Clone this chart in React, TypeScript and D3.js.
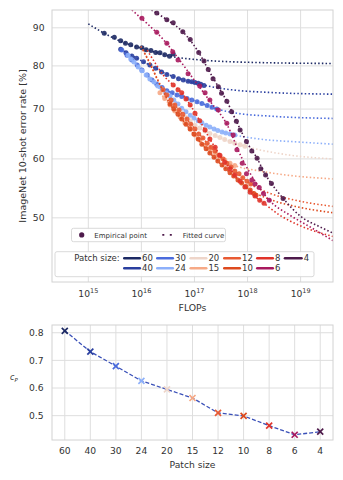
import React from 'react';
import * as d3 from 'd3';

// ---------- data ----------
const patchSizes = ['60', '40', '30', '24', '20', '15', '12', '10', '8', '6', '4'];
const patchColors = ['#1d2a64', '#2a3f9f', '#4a6bdc', '#8db0fa', '#eed5c9', '#f6a986', '#e85a33', '#dd4a1e', '#e0332a', '#a8195e', '#4e1a4b'];
const cP = [0.807, 0.732, 0.679, 0.626, 0.595, 0.564, 0.51, 0.499, 0.464, 0.431, 0.442];

const flopTicks = [15, 16, 17, 18, 19];
const errTicks = [50, 60, 70, 80, 90];
const cpTicks = [0.5, 0.6, 0.7, 0.8];

// empirical points: [log10 FLOPs, error %]
const pts60 = [[15.30, 88.5], [15.49, 87.4], [15.61, 86.5], [15.70, 85.8], [15.80, 85.4], [15.91, 84.8], [16.01, 84.6], [16.09, 84.1], [16.18, 83.9], [16.27, 83.4], [16.35, 83.3], [16.44, 82.8], [16.53, 82.4], [16.60, 83.0]];
const pts40 = [[15.61, 84.2], [15.71, 83.3], [15.82, 82.5], [15.91, 81.9], [16.04, 81.05], [16.16, 80.2], [16.27, 79.4], [16.38, 78.5], [16.48, 77.9], [16.60, 77.4], [16.70, 76.9], [16.79, 76.6], [16.88, 76.3], [16.95, 76.2], [17.01, 76.0], [17.07, 75.8], [17.12, 75.6], [17.18, 75.3]];
const pts30 = [[15.63, 84.0], [15.73, 82.7], [15.82, 81.5], [15.92, 80.2], [16.01, 79.0], [16.11, 77.8], [16.20, 76.6], [16.29, 75.6], [16.39, 74.8], [16.48, 74.1], [16.58, 73.6], [16.67, 73.1], [16.76, 72.8], [16.86, 72.3], [16.95, 72.0], [17.05, 71.6], [17.14, 71.2], [17.24, 70.8], [17.33, 70.4], [17.42, 70.0]];
const pts24 = [[15.75, 82.7], [15.80, 81.7], [15.86, 81.0], [15.94, 79.7], [16.01, 78.8], [16.09, 77.8], [16.16, 76.8], [16.24, 76.1], [16.31, 75.2], [16.39, 74.5], [16.46, 73.6], [16.54, 72.9], [16.61, 72.0], [16.69, 71.1], [16.76, 70.2], [16.84, 69.4], [16.92, 68.7], [16.99, 68.1], [17.07, 67.5], [17.14, 67.1], [17.22, 66.6], [17.29, 66.2], [17.37, 65.8], [17.44, 65.5], [17.52, 65.2], [17.59, 65.0], [17.67, 64.8], [17.76, 64.6]];
const pts20 = [[16.44, 72.7], [16.54, 71.6], [16.63, 70.6], [16.73, 69.4], [16.82, 68.3], [16.92, 67.5], [17.01, 66.6], [17.10, 66.0], [17.20, 65.4], [17.29, 64.9], [17.39, 64.5], [17.48, 64.1], [17.57, 63.7], [17.67, 63.3], [17.76, 63.0], [17.86, 62.7], [17.95, 62.4]];
const pts15 = [[16.35, 73.6], [16.44, 72.3], [16.54, 70.9], [16.63, 69.6], [16.73, 68.3], [16.82, 67.1], [16.92, 65.8], [17.01, 64.6], [17.10, 63.6], [17.20, 62.6], [17.29, 61.9], [17.39, 61.1], [17.48, 60.3], [17.57, 59.8], [17.67, 59.2], [17.76, 58.8]];
const pts12 = [[16.41, 74.3], [16.48, 73.1], [16.56, 72.0], [16.63, 70.9], [16.71, 69.8], [16.78, 68.9], [16.86, 67.9], [16.93, 66.8], [17.01, 65.8], [17.08, 64.8], [17.16, 64.0], [17.24, 63.0], [17.31, 62.2], [17.39, 61.5], [17.46, 60.7], [17.54, 60.0], [17.61, 59.2], [17.69, 58.5], [17.76, 57.8], [17.84, 57.3], [17.91, 56.6], [17.99, 56.0], [18.06, 55.5]];
const pts10 = [[16.54, 71.1], [16.61, 70.0], [16.69, 68.9], [16.76, 67.9], [16.84, 66.8], [16.92, 65.8], [16.99, 64.8], [17.07, 63.8], [17.14, 62.8], [17.22, 61.9], [17.29, 61.1], [17.37, 60.3], [17.44, 59.6], [17.52, 58.9], [17.59, 58.2], [17.67, 57.5], [17.74, 56.9], [17.82, 56.2], [17.89, 55.7], [17.97, 55.1], [18.05, 54.5], [18.12, 53.9], [18.16, 53.6]];
const pts8 = [[16.60, 75.4], [16.69, 74.3], [16.76, 73.6], [16.84, 72.2], [16.92, 70.9], [17.01, 69.1], [17.10, 67.5], [17.20, 65.6], [17.29, 63.8], [17.39, 62.2], [17.48, 60.7], [17.57, 59.4], [17.67, 58.2], [17.76, 57.1], [17.86, 56.0], [17.95, 55.0], [18.05, 54.1], [18.14, 53.5], [18.23, 52.8], [18.31, 52.3]];
const pts6 = [[16.01, 92.7], [16.29, 88.8], [16.48, 85.8], [16.59, 83.6], [16.69, 81.5], [16.88, 78.1], [17.10, 75.2], [17.20, 73.6], [17.29, 72.0], [17.45, 69.8], [17.61, 67.0], [17.73, 64.6], [17.80, 61.7], [17.90, 59.2], [17.98, 57.3], [18.08, 56.2], [18.14, 55.5], [18.22, 54.9], [18.30, 53.9], [18.41, 52.8]];
const pts4 = [[16.29, 94.2], [16.48, 92.3], [16.60, 91.4], [16.78, 88.9], [16.92, 86.8], [17.08, 83.4], [17.18, 81.2], [17.26, 79.1], [17.35, 76.9], [17.45, 75.0], [17.51, 73.5], [17.61, 71.7], [17.70, 69.4], [17.79, 67.4], [17.86, 65.6], [17.98, 63.3], [18.08, 61.5], [18.18, 60.1], [18.25, 58.2], [18.34, 57.1], [18.45, 55.6], [18.67, 53.1]];

// fitted curves: [log10 FLOPs, error %]
const fit60 = [[15.0, 91.1], [15.3, 88.5], [15.7, 85.8], [16.0, 84.5], [16.3, 83.3], [16.6, 82.3], [17.1, 81.5], [18.0, 80.9], [19.61, 80.6]];
const fit40 = [[15.61, 84.2], [15.9, 82.0], [16.2, 79.9], [16.5, 77.9], [16.8, 76.6], [17.2, 75.3], [17.7, 74.3], [18.4, 73.7], [19.61, 73.3]];
const fit30 = [[15.63, 84.0], [15.9, 80.6], [16.2, 76.6], [16.5, 74.0], [16.8, 72.7], [17.1, 71.4], [17.4, 70.1], [17.8, 69.1], [18.4, 68.5], [19.61, 68.0]];
const fit24 = [[15.75, 82.7], [16.0, 79.0], [16.3, 75.0], [16.6, 72.1], [16.9, 68.9], [17.2, 66.7], [17.5, 65.4], [17.76, 64.6], [18.23, 63.8], [18.99, 63.2], [19.61, 62.8]];
const fit20 = [[16.44, 72.7], [16.7, 69.6], [17.0, 66.7], [17.3, 64.9], [17.6, 63.6], [17.95, 62.4], [18.23, 61.7], [18.8, 60.7], [19.61, 60.0]];
const fit15 = [[16.35, 73.6], [16.63, 69.6], [16.92, 65.8], [17.2, 62.6], [17.48, 60.3], [17.76, 58.8], [18.23, 57.8], [18.8, 57.0], [19.61, 56.4]];
const fit12 = [[15.99, 85.0], [16.16, 80.7], [16.29, 77.1], [16.41, 74.3], [16.71, 69.8], [17.01, 65.8], [17.31, 62.2], [17.61, 59.2], [17.91, 56.6], [18.06, 55.5], [18.4, 54.0], [18.9, 52.8], [19.61, 51.8]];
const fit10 = [[16.03, 84.0], [16.2, 79.5], [16.35, 75.4], [16.54, 71.1], [16.84, 66.8], [17.14, 62.8], [17.44, 59.6], [17.74, 56.9], [18.05, 54.5], [18.4, 53.0], [18.9, 51.8], [19.61, 50.8]];
const fit8 = [[16.11, 84.0], [16.26, 80.7], [16.41, 77.8], [16.6, 75.4], [16.76, 73.6], [16.92, 70.9], [17.1, 67.5], [17.29, 63.8], [17.48, 60.7], [17.67, 58.2], [17.86, 56.0], [18.05, 54.1], [18.31, 52.3], [18.61, 50.4], [18.99, 48.8], [19.61, 47.2]];
const fit6 = [[15.82, 95.1], [16.1, 91.3], [16.4, 87.0], [16.7, 81.8], [17.0, 76.5], [17.3, 71.6], [17.6, 67.0], [17.9, 60.0], [18.2, 55.2], [18.41, 52.8], [18.8, 50.4], [19.18, 48.6], [19.61, 46.6]];
const fit4 = [[16.19, 95.1], [16.48, 92.3], [16.78, 88.9], [17.08, 83.4], [17.26, 79.1], [17.45, 75.0], [17.61, 71.7], [17.79, 67.4], [17.98, 63.3], [18.18, 60.1], [18.34, 57.1], [18.45, 55.6], [18.67, 53.1], [18.99, 50.3], [19.37, 48.6], [19.61, 47.7]];

const empirical = [pts60, pts40, pts30, pts24, pts20, pts15, pts12, pts10, pts8, pts6, pts4];
const fitted = [fit60, fit40, fit30, fit24, fit20, fit15, fit12, fit10, fit8, fit6, fit4];

// legend layout (row-major as in reference)
const legendRow1 = ['60', '30', '20', '12', '8', '4'];
const legendRow2 = ['40', '24', '15', '10', '6'];

// ---------- layout ----------
const FONT = 'DejaVu Sans, sans-serif';
const TXT = '#333333';
const GRID = '#dedede';
const SPINE = '#d2d2d2';

const top = { l: 52, r: 333, t: 10, b: 282 };
const bot = { l: 52, r: 333, t: 325, b: 440 };

const xs = d3.scaleLog().domain([10 ** 14.316, 10 ** 19.61]).range([top.l, top.r]);
const ys = d3.scaleLog().domain([41.0, 95.1]).range([top.b, top.t]);
const xb = d3.scalePoint().domain(patchSizes).range([bot.l, bot.r]).padding(0.5);
const yb = d3.scaleLinear().domain([0.412, 0.828]).range([bot.b, bot.t]);

const colorOf = (p: string) => patchColors[patchSizes.indexOf(p)];

export default function App() {
  const line = d3
    .line<number[]>()
    .x((d) => xs(10 ** d[0]))
    .y((d) => ys(d[1]))
    .curve(d3.curveMonotoneX);
  const cpLine = d3
    .line<number>()
    .x((_, i) => xb(patchSizes[i]) as number)
    .y((d) => yb(d));

  const legendCols = [124.3, 157.3, 190.7, 224.3, 257.3, 285];

  return (
    <svg
      width={343}
      height={480}
      style={{ position: 'absolute', left: 0, top: 0, background: '#fff' }}
      fontFamily={FONT}
    >
      <defs>
        <clipPath id="clipTop">
          <rect x={top.l} y={top.t} width={top.r - top.l} height={top.b - top.t} />
        </clipPath>
      </defs>
      <rect x={0} y={0} width={343} height={480} fill="#fff" />

      {/* ===== top panel ===== */}
      {flopTicks.map((t) => (
        <line key={'gx' + t} x1={xs(10 ** t)} x2={xs(10 ** t)} y1={top.t} y2={top.b} stroke={GRID} strokeWidth={1} />
      ))}
      {errTicks.map((t) => (
        <line key={'gy' + t} x1={top.l} x2={top.r} y1={ys(t)} y2={ys(t)} stroke={GRID} strokeWidth={1} />
      ))}

      <g clipPath="url(#clipTop)">
        {patchSizes.map((p, i) => (
          <g key={'s' + p}>
            <path
              d={line(fitted[i] as number[][]) || ''}
              fill="none"
              stroke={patchColors[i]}
              strokeWidth={1.6}
              strokeDasharray="1.5 2.2"
            />
            {empirical[i].map((d, j) => (
              <circle key={j} cx={xs(10 ** d[0])} cy={ys(d[1])} r={2.5} fill={patchColors[i]} fillOpacity={0.9} />
            ))}
          </g>
        ))}
      </g>

      <rect x={top.l} y={top.t} width={top.r - top.l} height={top.b - top.t} fill="none" stroke={SPINE} strokeWidth={1} />

      {errTicks.map((t) => (
        <text key={'ly' + t} x={44.5} y={ys(t)} dy="0.35em" textAnchor="end" fontSize={9.2} fill={TXT}>
          {t}
        </text>
      ))}
      {flopTicks.map((t) => (
        <text key={'lx' + t} x={xs(10 ** t)} y={296.5} textAnchor="middle" fontSize={9.2} fill={TXT}>
          <tspan>10</tspan>
          <tspan dy={-4} fontSize={6.5}>
            {t}
          </tspan>
        </text>
      ))}
      <text x={(top.l + top.r) / 2} y={310.5} textAnchor="middle" fontSize={9.3} fill={TXT}>
        FLOPs
      </text>
      <text transform={`translate(25.5,${(top.t + top.b) / 2}) rotate(-90)`} textAnchor="middle" fontSize={9.5} fill={TXT}>
        ImageNet 10-shot error rate [%]
      </text>

      {/* legend 1 */}
      <rect x={71.5} y={228.3} width={154} height={13.4} rx={2} fill="#fff" fillOpacity={0.9} stroke="#cfcfcf" strokeWidth={0.8} />
      <circle cx={81.7} cy={234.9} r={2.6} fill="#4e1a4b" />
      <text x={94.3} y={237.5} fontSize={7} fill={TXT}>
        Empirical point
      </text>
      <line x1={162.3} x2={173} y1={234.9} y2={234.9} stroke="#4e1a4b" strokeWidth={1.8} strokeDasharray="2 5.5" />
      <text x={182.7} y={237.5} fontSize={7} fill={TXT}>
        Fitted curve
      </text>

      {/* legend 2 */}
      <rect x={55} y={251.7} width={259} height={25} rx={2} fill="#fff" fillOpacity={0.9} stroke="#cfcfcf" strokeWidth={0.8} />
      <text x={74.3} y={261.3} fontSize={8.5} fill={TXT}>
        Patch size:
      </text>
      {[legendRow1, legendRow2].map((row, r) =>
        row.map((p, c) => {
          const x0 = legendCols[c];
          const yy = r === 0 ? 258.3 : 268.3;
          const len = c === 5 ? 16.5 : 15.5;
          return (
            <g key={'lg' + p}>
              <line x1={x0} x2={x0 + len} y1={yy} y2={yy} stroke={colorOf(p)} strokeWidth={2.6} strokeLinecap="round" />
              <text x={x0 + len + 2.2} y={yy + 3} fontSize={8.5} fill={TXT}>
                {p}
              </text>
            </g>
          );
        })
      )}

      {/* ===== bottom panel ===== */}
      {patchSizes.map((p) => (
        <line key={'bgx' + p} x1={xb(p)} x2={xb(p)} y1={bot.t} y2={bot.b} stroke={GRID} strokeWidth={1} />
      ))}
      {cpTicks.map((t) => (
        <line key={'bgy' + t} x1={bot.l} x2={bot.r} y1={yb(t)} y2={yb(t)} stroke={GRID} strokeWidth={1} />
      ))}
      <rect x={bot.l} y={bot.t} width={bot.r - bot.l} height={bot.b - bot.t} fill="none" stroke={SPINE} strokeWidth={1} />

      <path d={cpLine(cP) || ''} fill="none" stroke="#3a50b8" strokeWidth={1.3} strokeDasharray="4 2" />
      {cP.map((v, i) => {
        const cx = xb(patchSizes[i]) as number;
        const cy = yb(v);
        const s = 3;
        return (
          <g key={'cx' + i} stroke={patchColors[i]} strokeWidth={1.7}>
            <line x1={cx - s} y1={cy - s} x2={cx + s} y2={cy + s} />
            <line x1={cx - s} y1={cy + s} x2={cx + s} y2={cy - s} />
          </g>
        );
      })}

      {cpTicks.map((t) => (
        <text key={'bly' + t} x={43.5} y={yb(t)} dy="0.35em" textAnchor="end" fontSize={9.2} fill={TXT}>
          {t.toFixed(1)}
        </text>
      ))}
      {patchSizes.map((p) => (
        <text key={'blx' + p} x={xb(p)} y={454} textAnchor="middle" fontSize={9.2} fill={TXT}>
          {p}
        </text>
      ))}
      <text x={(bot.l + bot.r) / 2} y={467.5} textAnchor="middle" fontSize={9.2} fill={TXT}>
        Patch size
      </text>
      <text x={10} y={380} fontSize={8} fill={TXT} fontStyle="italic">
        c
        <tspan dy={1.8} fontSize={5.5}>
          P
        </tspan>
      </text>
    </svg>
  );
}
